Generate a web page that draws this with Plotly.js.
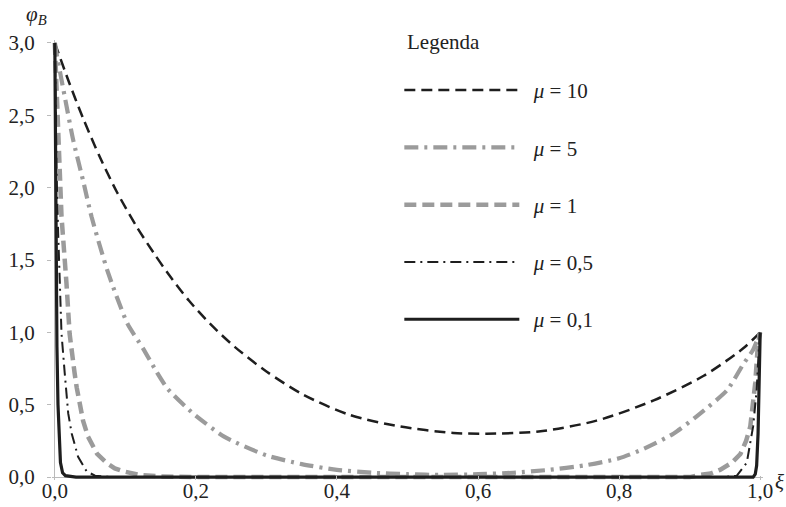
<!DOCTYPE html>
<html>
<head>
<meta charset="utf-8">
<script src="https://cdn.plot.ly/plotly-3.0.1.min.js"></script>
<style>html,body{margin:0;padding:0;background:#fff;}#chart{width:786px;height:507px;}</style>
</head>
<body>
<div id="chart"></div>
<script>
// ---- data ----
const seriesNames = ["<i>μ</i> = 10", "<i>μ</i> = 5", "<i>μ</i> = 1", "<i>μ</i> = 0,5", "<i>μ</i> = 0,1"];

const xiMu10  = [0, 0.02, 0.04, 0.064, 0.088, 0.116, 0.14, 0.16, 0.19, 0.22, 0.255, 0.30, 0.352, 0.418, 0.489, 0.565, 0.612, 0.686, 0.768, 0.849, 0.92, 0.976, 1.0];
const phiMu10 = [3.00, 2.73, 2.48, 2.21, 1.97, 1.73, 1.55, 1.41, 1.22, 1.06, 0.90, 0.73, 0.57, 0.43, 0.35, 0.305, 0.30, 0.315, 0.39, 0.53, 0.70, 0.89, 1.00];

const xiMu5  = [0, 0.002, 0.014, 0.026, 0.04, 0.052, 0.075, 0.103, 0.125, 0.144, 0.16, 0.196, 0.24, 0.30, 0.35, 0.40, 0.45, 0.50, 0.55, 0.60, 0.65, 0.70, 0.75, 0.80, 0.837, 0.877, 0.91, 0.953, 0.976, 0.99, 1.0];
const phiMu5 = [3.00, 2.94, 2.63, 2.33, 2.05, 1.80, 1.42, 1.06, 0.89, 0.73, 0.61, 0.44, 0.28, 0.15, 0.09, 0.05, 0.03, 0.02, 0.015, 0.02, 0.03, 0.05, 0.08, 0.13, 0.20, 0.30, 0.42, 0.60, 0.78, 0.88, 1.00];

const xiMu1  = [0, 0.003, 0.006, 0.0095, 0.0165, 0.021, 0.028, 0.031, 0.04, 0.047, 0.06, 0.073, 0.085, 0.097, 0.12, 0.15, 0.2, 0.9, 0.915, 0.93, 0.943, 0.96, 0.972, 0.98, 0.986, 0.993, 0.997, 1.0];
const phiMu1 = [3.00, 2.56, 2.19, 1.80, 1.34, 0.99, 0.72, 0.62, 0.39, 0.28, 0.16, 0.10, 0.06, 0.04, 0.015, 0.005, 0.0, 0.0, 0.015, 0.025, 0.05, 0.10, 0.16, 0.25, 0.35, 0.65, 0.93, 1.00];

const xiMu05  = [0, 0.001, 0.0025, 0.0047, 0.007, 0.0095, 0.014, 0.0166, 0.019, 0.024, 0.033, 0.045, 0.057, 0.08, 0.95, 0.967, 0.981, 0.99, 0.995, 0.998, 1.0];
const phiMu05 = [3.00, 2.60, 2.10, 1.69, 1.34, 0.99, 0.72, 0.55, 0.44, 0.30, 0.14, 0.04, 0.01, 0.0, 0.0, 0.01, 0.10, 0.35, 0.60, 0.88, 1.00];

const xiMu01  = [0, 0.0008, 0.0018, 0.003, 0.0045, 0.006, 0.008, 0.011, 0.015, 0.03, 0.97, 0.99, 0.993, 0.995, 0.997, 0.999, 1.0];
const phiMu01 = [3.00, 2.20, 1.50, 0.90, 0.50, 0.25, 0.10, 0.03, 0.01, 0.0, 0.0, 0.0, 0.02, 0.08, 0.30, 0.70, 1.00];

const xTickVals = [0, 0.2, 0.4, 0.6, 0.8, 1.0];
const xTickText = ["0,0", "0,2", "0,4", "0,6", "0,8", "1,0"];
const yTickVals = [0, 0.5, 1.0, 1.5, 2.0, 2.5, 3.0];
const yTickText = ["0,0", "0,5", "1,0", "1,5", "2,0", "2,5", "3,0"];

const BLACK = "#1e1e1e";
const GRAY = "#9b9b9b";
const FONT = "Liberation Serif";
const TXT = "#222";
const GAP = "\u00A0\u2009";

const traces = [
  {x: xiMu10, y: phiMu10, name: GAP + seriesNames[0], legendgroup: "a", mode: "lines",
   line: {color: BLACK, width: 2.5, dash: "11px,6px", shape: "spline", smoothing: 0.8}},
  {x: xiMu5, y: phiMu5, name: GAP + seriesNames[1], legendgroup: "b", mode: "lines",
   line: {color: GRAY, width: 4.2, dash: "14px,6px,3px,6px", shape: "spline", smoothing: 0.6}},
  {x: xiMu1, y: phiMu1, name: GAP + seriesNames[2], legendgroup: "c", mode: "lines",
   line: {color: GRAY, width: 4.5, dash: "12px,6px"}},
  {x: xiMu05, y: phiMu05, name: GAP + seriesNames[3], legendgroup: "d", mode: "lines",
   line: {color: BLACK, width: 2, dash: "11px,5px,2px,5px"}},
  {x: xiMu01, y: phiMu01, name: GAP + seriesNames[4], legendgroup: "e", mode: "lines",
   line: {color: BLACK, width: 3.2}}
];

const layout = {
  width: 786, height: 507,
  margin: {l: 52, r: 23, t: 40, b: 27},
  paper_bgcolor: "#fff", plot_bgcolor: "#fff",
  font: {family: FONT, size: 21, color: TXT},
  showlegend: true,
  legend: {
    x: 0.4885, xanchor: "left", y: 0.932, yanchor: "top",
    font: {family: FONT, size: 21, color: TXT},
    traceorder: "grouped", tracegroupgap: 27, itemwidth: 115,
    maxheight: 420,
    bgcolor: "rgba(0,0,0,0)"
  },
  xaxis: {
    range: [-0.004, 1.004], showgrid: false,
    zeroline: true, zerolinecolor: "#bbbbbb", zerolinewidth: 1,
    showline: false,
    tickmode: "array", tickvals: xTickVals, ticktext: xTickText,
    ticks: "inside", ticklen: 4, tickcolor: "#bbbbbb", ticklabelstandoff: -4,
    tickfont: {family: FONT, size: 21, color: TXT}
  },
  yaxis: {
    range: [-0.02, 3.02], showgrid: false,
    zeroline: true, zerolinecolor: "#bbbbbb", zerolinewidth: 1,
    showline: false,
    tickmode: "array", tickvals: yTickVals, ticktext: yTickText,
    ticks: "outside", ticklen: 4, tickcolor: "#bbbbbb", ticklabelstandoff: 8,
    tickfont: {family: FONT, size: 21, color: TXT}
  },
  annotations: [
    {xref: "paper", yref: "paper", x: -0.0225, y: 1.057, xanchor: "center", yanchor: "middle",
     text: "<i>φ</i><sub><i>B</i></sub>", showarrow: false, font: {family: FONT, size: 21, color: TXT}},
    {xref: "paper", yref: "paper", x: 1.014, y: -0.005, xanchor: "left", yanchor: "middle",
     text: "<i>ξ</i>", showarrow: false, font: {family: FONT, size: 21, color: TXT}},
    {xref: "paper", yref: "paper", x: 0.4965, y: 0.995, xanchor: "left", yanchor: "middle",
     text: "Legenda", showarrow: false, font: {family: FONT, size: 21, color: TXT}}
  ]
};

Plotly.newPlot("chart", traces, layout, {displayModeBar: false, staticPlot: true});
</script>
</body>
</html>
